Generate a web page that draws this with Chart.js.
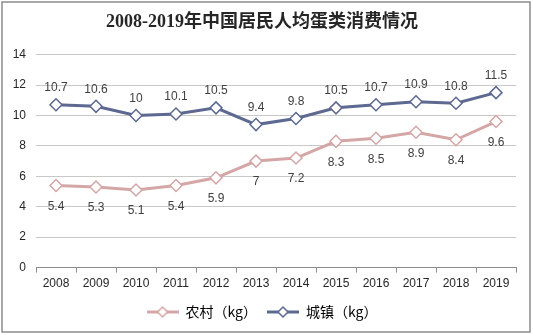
<!DOCTYPE html>
<html>
<head>
<meta charset="utf-8">
<script src="https://cdn.jsdelivr.net/npm/chart.js@4.4.1/dist/chart.umd.min.js"></script>
<style>
  html, body { margin: 0; padding: 0; background: #fff; }
  #wrap { position: relative; width: 533px; height: 335px; }
</style>
</head>
<body>
<div id="wrap"><canvas id="chart" width="533" height="335"></canvas></div>
<script>
// données
const years = ['2008', '2009', '2010', '2011', '2012', '2013', '2014', '2015', '2016', '2017', '2018', '2019'];
const rural = [5.4, 5.3, 5.1, 5.4, 5.9, 7, 7.2, 8.3, 8.5, 8.9, 8.4, 9.6];
const urban = [10.7, 10.6, 10, 10.1, 10.5, 9.4, 9.8, 10.5, 10.7, 10.9, 10.8, 11.5];
const seriesNames = ['农村（kg）', '城镇（kg）'];

const ruralColor = '#d4a6a6';
const urbanColor = '#5d6990';

// icône de légende : trait + losange
function legendIcon(color) {
    const c = document.createElement('canvas');
    c.width = 32;
    c.height = 14;
    const ctx = c.getContext('2d');
    ctx.strokeStyle = color;
    ctx.lineWidth = 3;
    ctx.beginPath();
    ctx.moveTo(0, 7);
    ctx.lineTo(32, 7);
    ctx.stroke();
    ctx.fillStyle = '#fff';
    ctx.lineWidth = 1.5;
    ctx.beginPath();
    ctx.moveTo(16, 2);
    ctx.lineTo(21, 7);
    ctx.lineTo(16, 12);
    ctx.lineTo(11, 7);
    ctx.closePath();
    ctx.fill();
    ctx.stroke();
    return c;
}

// cadre gris autour de l'image
const framePlugin = {
    id: 'frame',
    beforeDraw(chart) {
        const ctx = chart.ctx;
        ctx.save();
        ctx.fillStyle = '#fff';
        ctx.fillRect(0, 0, chart.width, chart.height);
        ctx.strokeStyle = '#8c8c8c';
        ctx.lineWidth = 1.5;
        ctx.strokeRect(2, 2, chart.width - 5, chart.height - 5);
        ctx.restore();
    }
};

// étiquettes de valeurs : au-dessus pour 城镇, en dessous pour 农村
const labelPlugin = {
    id: 'valueLabels',
    afterDatasetsDraw(chart) {
        const ctx = chart.ctx;
        ctx.save();
        ctx.font = '12px "Liberation Sans", Arial, sans-serif';
        ctx.fillStyle = '#404040';
        ctx.textAlign = 'center';
        ctx.textBaseline = 'middle';
        chart.data.datasets.forEach((ds, i) => {
            const meta = chart.getDatasetMeta(i);
            const offset = i === 0 ? 21 : -17;
            meta.data.forEach((pt, j) => {
                ctx.fillText(String(ds.data[j]), pt.x, pt.y + offset);
            });
        });
        ctx.restore();
    }
};

new Chart(document.getElementById('chart'), {
    type: 'line',
    data: {
        labels: years,
        datasets: [{
            label: seriesNames[0],
            data: rural,
            borderColor: ruralColor,
            borderWidth: 3,
            pointStyle: 'rectRot',
            pointRadius: 6,
            pointBackgroundColor: '#fff',
            pointBorderColor: ruralColor,
            pointBorderWidth: 1.5,
            tension: 0
        }, {
            label: seriesNames[1],
            data: urban,
            borderColor: urbanColor,
            borderWidth: 3,
            pointStyle: 'rectRot',
            pointRadius: 6,
            pointBackgroundColor: '#fff',
            pointBorderColor: urbanColor,
            pointBorderWidth: 1.5,
            tension: 0
        }]
    },
    options: {
        responsive: false,
        animation: false,
        layout: { padding: { left: 8, right: 17, top: 0, bottom: 6 } },
        plugins: {
            title: {
                display: true,
                text: '2008-2019年中国居民人均蛋类消费情况',
                color: '#262626',
                font: { family: '"Liberation Serif", "Noto Sans CJK SC", serif', size: 18, weight: 'bold' },
                padding: { top: 12, bottom: 21 }
            },
            legend: {
                position: 'bottom',
                labels: {
                    usePointStyle: true,
                    pointStyleWidth: 32,
                    boxHeight: 14,
                    color: '#404040',
                    font: { family: '"Noto Sans CJK SC", sans-serif', size: 14 },
                    padding: 10,
                    generateLabels(chart) {
                        return chart.data.datasets.map((ds, i) => ({
                            text: ds.label,
                            pointStyle: legendIcon(ds.borderColor),
                            fillStyle: '#fff',
                            strokeStyle: ds.borderColor,
                            lineWidth: 0,
                            datasetIndex: i,
                            hidden: false
                        }));
                    }
                }
            },
            tooltip: { enabled: false }
        },
        scales: {
            x: {
                offset: true,
                grid: {
                    offset: true,
                    drawOnChartArea: false,
                    drawTicks: true,
                    tickLength: 5,
                    color: '#8c8c8c'
                },
                border: { display: true, color: '#8c8c8c', width: 1 },
                ticks: {
                    color: '#262626',
                    font: { family: '"Liberation Sans", Arial, sans-serif', size: 12 },
                    padding: 4,
                    maxRotation: 0
                }
            },
            y: {
                min: 0,
                max: 14,
                ticks: {
                    stepSize: 2,
                    color: '#262626',
                    font: { family: '"Liberation Sans", Arial, sans-serif', size: 12 },
                    padding: 10
                },
                grid: { color: '#c8c8c8', drawTicks: false },
                border: { display: false },
                afterFit(scale) { scale.width = 28; }
            }
        }
    },
    plugins: [framePlugin, labelPlugin]
});
</script>
</body>
</html>
